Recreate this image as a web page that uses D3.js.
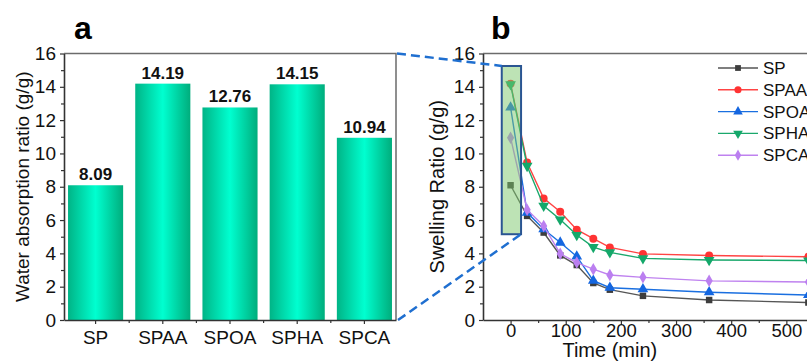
<!DOCTYPE html>
<html>
<head>
<meta charset="utf-8">
<script src="https://cdn.jsdelivr.net/npm/d3@7"></script>
<style>
  body { margin: 0; background: #fff; }
  svg { font-family: Arial, "Liberation Sans", sans-serif; display: block; }
</style>
</head>
<body>
<svg id="chart" width="807" height="364"></svg>
<script>
// panel a: bars
var samples = ['SP', 'SPAA', 'SPOA', 'SPHA', 'SPCA'];
var absorption = [8.09, 14.19, 12.76, 14.15, 10.94];

// panel b: swelling vs time
var times = [0, 30, 60, 90, 120, 150, 180, 240, 360, 540];
var swSP   = [8.09, 6.25, 5.25, 3.88, 3.3, 2.22, 1.82, 1.45, 1.2, 1.05];
var swSPAA = [14.19, 9.45, 7.3, 6.5, 5.42, 4.88, 4.36, 3.97, 3.87, 3.8];
var swSPOA = [12.76, 6.45, 5.45, 4.65, 3.82, 2.36, 1.94, 1.85, 1.67, 1.5];
var swSPHA = [14.15, 9.25, 6.85, 6.03, 5.1, 4.38, 4.06, 3.7, 3.6, 3.57];
var swSPCA = [10.94, 6.62, 5.65, 3.98, 3.45, 3.05, 2.7, 2.56, 2.35, 2.28];

var yTicks = [0, 2, 4, 6, 8, 10, 12, 14, 16];
var timeTicks = [0, 100, 200, 300, 400, 500];

var series = [
  { name: 'SP',   values: swSP,   color: '#3d3d3d', line: '#555555', shape: d3.symbolSquare },
  { name: 'SPAA', values: swSPAA, color: '#ff3333', line: '#ff4444', shape: d3.symbolCircle },
  { name: 'SPOA', values: swSPOA, color: '#1466e0', line: '#1a6fe0', shape: d3.symbolTriangle },
  { name: 'SPHA', values: swSPHA, color: '#14a86a', line: '#1aa86c', shape: 'down' },
  { name: 'SPCA', values: swSPCA, color: '#bb7ff0', line: '#bf82ef', shape: d3.symbolDiamond }
];

var svg = d3.select('#chart');
var axisCol = '#333';
var frameCol = '#6b6b6b';

// gradient for bars
var grad = svg.append('defs').append('linearGradient')
  .attr('id', 'barGrad').attr('x1', 0).attr('x2', 1).attr('y1', 0).attr('y2', 0);
grad.append('stop').attr('offset', '0%').attr('stop-color', '#00b486');
grad.append('stop').attr('offset', '50%').attr('stop-color', '#00ffd0');
grad.append('stop').attr('offset', '100%').attr('stop-color', '#00ad7c');

// ---------- panel a ----------
var xA = d3.scaleBand().domain(samples).range([64, 396]).paddingInner(0.18).paddingOuter(0.06);
var yA = d3.scaleLinear().domain([0, 16]).range([320, 53.5]);

// frame top/right
svg.append('path')
  .attr('d', 'M' + xA.range()[0] + ',' + yA(16) + 'H' + xA.range()[1] + 'V' + yA(0))
  .attr('fill', 'none').attr('stroke', frameCol).attr('stroke-width', 1.5);

svg.selectAll('.bar').data(absorption).enter().append('rect')
  .attr('class', 'bar')
  .attr('x', function(d, i) { return xA(samples[i]); })
  .attr('y', function(d) { return yA(d); })
  .attr('width', xA.bandwidth())
  .attr('height', function(d) { return yA(0) - yA(d); })
  .attr('fill', 'url(#barGrad)');

svg.selectAll('.val').data(absorption).enter().append('text')
  .attr('x', function(d, i) { return xA(samples[i]) + xA.bandwidth() / 2; })
  .attr('y', function(d) { return yA(d) - 5; })
  .attr('text-anchor', 'middle')
  .attr('font-size', 17).attr('font-weight', 'bold').attr('fill', '#111')
  .text(function(d) { return d.toFixed(2); });

var gyA = svg.append('g').attr('transform', 'translate(' + xA.range()[0] + ',0)')
  .call(d3.axisLeft(yA).tickValues(yTicks).tickSize(4).tickSizeOuter(0).tickPadding(4));
svg.append('g').attr('transform', 'translate(' + xA.range()[0] + ',0)')
  .call(d3.axisLeft(yA).tickValues(d3.range(1, 16, 2)).tickSize(3).tickFormat(''))
  .select('.domain').remove();

var gxA = svg.append('g').attr('transform', 'translate(0,' + yA(0) + ')')
  .call(d3.axisBottom(xA).tickSize(4).tickSizeOuter(0).tickPadding(7));
// ticks at category boundaries
var bounds = samples.slice(1).map(function(s) { return xA(s) - xA.step() * xA.paddingInner() / 2; });
svg.append('g').selectAll('line').data(bounds).enter().append('line')
  .attr('x1', function(d) { return d; }).attr('x2', function(d) { return d; })
  .attr('y1', yA(0)).attr('y2', yA(0) + 3)
  .attr('stroke', axisCol).attr('stroke-width', 1.2);

svg.append('text')
  .attr('transform', 'translate(29,' + ((yA(0) + yA(16)) / 2) + ') rotate(-90)')
  .attr('text-anchor', 'middle').attr('font-size', 19).attr('fill', '#111')
  .text('Water absorption ratio (g/g)');

svg.append('text').attr('x', 74).attr('y', 39)
  .attr('font-size', 32).attr('font-weight', 'bold').text('a');

// ---------- panel b ----------
var xB = d3.scaleLinear().domain([-50, 600]).range([483, 841.5]);
var yB = d3.scaleLinear().domain([0, 16]).range([320, 53.5]);

svg.append('path')
  .attr('d', 'M' + xB(-50) + ',' + yB(16) + 'H' + xB(600))
  .attr('fill', 'none').attr('stroke', frameCol).attr('stroke-width', 1.5);

var gyB = svg.append('g').attr('transform', 'translate(' + xB(-50) + ',0)')
  .call(d3.axisLeft(yB).tickValues(yTicks).tickSize(4).tickSizeOuter(0).tickPadding(4));
svg.append('g').attr('transform', 'translate(' + xB(-50) + ',0)')
  .call(d3.axisLeft(yB).tickValues(d3.range(1, 16, 2)).tickSize(3).tickFormat(''))
  .select('.domain').remove();

var gxB = svg.append('g').attr('transform', 'translate(0,' + yB(0) + ')')
  .call(d3.axisBottom(xB).tickValues(timeTicks).tickSize(4).tickSizeOuter(0).tickPadding(0));
svg.append('g').attr('transform', 'translate(0,' + yB(0) + ')')
  .call(d3.axisBottom(xB).tickValues([50, 150, 250, 350, 450, 550]).tickSize(3).tickFormat(''))
  .select('.domain').remove();

[gyA, gxA, gyB, gxB].forEach(function(g) {
  g.selectAll('text').attr('font-size', 19).attr('fill', '#111').attr('font-family', 'Arial, "Liberation Sans", sans-serif');
});
gxB.selectAll('text').attr('font-size', 18.5);
svg.selectAll('.domain').attr('stroke', axisCol).attr('stroke-width', 1.6);
svg.selectAll('.tick line').attr('stroke', axisCol).attr('stroke-width', 1.2);

function marker(shape, size) {
  if (shape === 'down') {
    return function() { return d3.symbol().type(d3.symbolTriangle).size(size)().toString(); };
  }
  return function() { return d3.symbol().type(shape).size(size)(); };
}
function sizeOf(s) {
  if (s.shape === d3.symbolSquare) return 42;
  if (s.shape === d3.symbolCircle) return 50;
  if (s.shape === d3.symbolDiamond) return 45;
  return 50;
}

var line = d3.line().x(function(d) { return xB(d[0]); }).y(function(d) { return yB(d[1]); });

series.forEach(function(s) {
  var pts = times.map(function(t, i) { return [t, s.values[i]]; });
  svg.append('path').datum(pts).attr('d', line)
    .attr('fill', 'none').attr('stroke', s.line).attr('stroke-width', 1.4);
  svg.append('g').selectAll('path').data(pts).enter().append('path')
    .attr('d', marker(s.shape, sizeOf(s)))
    .attr('transform', function(d) {
      return 'translate(' + xB(d[0]) + ',' + yB(d[1]) + ')' + (s.shape === 'down' ? ' rotate(180)' : '');
    })
    .attr('fill', s.color);
});

// zoom box over the t=0 points
var boxT = [-16, 19], boxV = [15.25, 5.15];
svg.append('rect')
  .attr('x', xB(boxT[0])).attr('y', yB(boxV[0]))
  .attr('width', xB(boxT[1]) - xB(boxT[0]))
  .attr('height', yB(boxV[1]) - yB(boxV[0]))
  .attr('fill', '#7cc76c').attr('fill-opacity', 0.5)
  .attr('stroke', '#2a5592').attr('stroke-width', 2);

// dashed connectors from panel a frame to the box
svg.append('line')
  .attr('x1', xA.range()[1] + 1).attr('y1', yA(16))
  .attr('x2', xB(boxT[0])).attr('y2', yB(boxV[0]))
  .attr('stroke', '#1f6fd0').attr('stroke-width', 2.5).attr('stroke-dasharray', '9,5');
svg.append('line')
  .attr('x1', xA.range()[1] + 2).attr('y1', yA(0))
  .attr('x2', xB(boxT[1])).attr('y2', yB(boxV[1]))
  .attr('stroke', '#1f6fd0').attr('stroke-width', 2.5).attr('stroke-dasharray', '9,5');

// legend
var leg = svg.append('g').attr('transform', 'translate(718,68)');
series.forEach(function(s, i) {
  var g = leg.append('g').attr('transform', 'translate(0,' + (i * 21.8) + ')');
  g.append('line').attr('x1', 0).attr('x2', 40).attr('stroke', s.line).attr('stroke-width', 1.4);
  g.append('path').attr('d', marker(s.shape, sizeOf(s) * 0.8))
    .attr('transform', 'translate(20,0)' + (s.shape === 'down' ? ' rotate(180)' : ''))
    .attr('fill', s.color);
  g.append('text').attr('x', 45).attr('y', 6).attr('font-size', 17).attr('fill', '#111').text(s.name);
});

svg.append('text')
  .attr('transform', 'translate(444,' + ((yB(0) + yB(16)) / 2) + ') rotate(-90)')
  .attr('text-anchor', 'middle').attr('font-size', 20).attr('fill', '#111')
  .text('Swelling Ratio (g/g)');

svg.append('text').attr('x', xB(180)).attr('y', 357)
  .attr('text-anchor', 'middle').attr('font-size', 20).attr('fill', '#111')
  .text('Time (min)');

svg.append('text').attr('x', 491).attr('y', 39)
  .attr('font-size', 32).attr('font-weight', 'bold').text('b');
</script>
</body>
</html>
